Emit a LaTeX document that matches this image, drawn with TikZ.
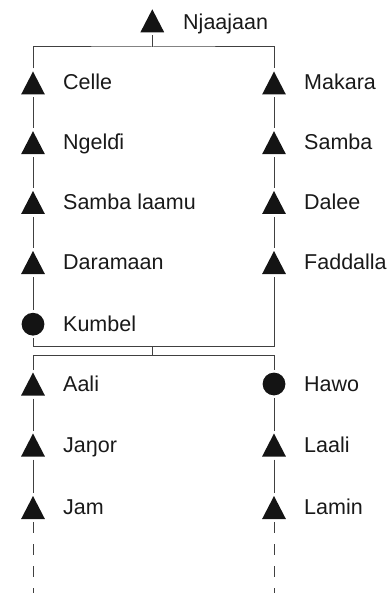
\documentclass[tikz,border=0pt]{standalone}
\usepackage{fontspec}
\setmainfont{Liberation Sans}
\begin{document}
\begin{tikzpicture}[x=1pt,y=-1pt,
  male/.style={rectangle,draw=none,minimum width=23.8pt,minimum height=23pt,inner sep=0pt,outer sep=3pt,
    path picture={\fill[black!92] (path picture bounding box.south west) -- (path picture bounding box.south east) -- (path picture bounding box.north) -- cycle;}},
  female/.style={circle,fill=black!92,draw=none,minimum size=22.8pt,inner sep=0pt,outer sep=2.5pt},
  lbl/.style={anchor=base west,inner sep=0pt,font=\fontsize{21.5pt}{24pt}\selectfont,text=black!90},
  link/.style={draw=black!75,line width=1pt},
  cont/.style={link,dash pattern=on 10.5pt off 11.5pt}]
\useasboundingbox (0,0) rectangle (388,593);
% symbols
\node[male] (nj) at (152.3,20.8) {};
\node[male] (celle) at (33,83) {};
\node[male] (ngeldi) at (33,142.7) {};
\node[male] (sambal) at (33,202.5) {};
\node[male] (daram) at (33,262.5) {};
\node[female] (kumbel) at (33,324.2) {};
\node[male] (makara) at (274,83) {};
\node[male] (samba) at (274,142.7) {};
\node[male] (dalee) at (274,202.5) {};
\node[male] (fadd) at (274,262.5) {};
\node[male] (aali) at (33,384) {};
\node[male] (janor) at (33,445) {};
\node[male] (jam) at (33,507.5) {};
\node[female] (hawo) at (274,384) {};
\node[male] (laali) at (274,445) {};
\node[male] (lamin) at (274,507.5) {};
% labels
\node[lbl] (tnj) at (183,29.3) {Njaajaan};
\node[lbl] (tcelle) at (63,90) {Celle};
\node[lbl] (tngeldi) at (63,149.7) {Ngelɗi};
\node[lbl] (tsambal) at (63,209.5) {Samba laamu};
\node[lbl] (tdaram) at (63,269.5) {Daramaan};
\node[lbl] (tkumbel) at (63,331.2) {Kumbel};
\node[lbl] (tmakara) at (304,90) {Makara};
\node[lbl] (tsamba) at (304,149.7) {Samba};
\node[lbl] (tdalee) at (304,209.5) {Dalee};
\node[lbl] (tfadd) at (304,269.5) {Faddalla};
\node[lbl] (taali) at (63,391) {Aali};
\node[lbl] (tjanor) at (63,452) {Jaŋor};
\node[lbl] (tjam) at (63,514.5) {Jam};
\node[lbl] (thawo) at (304,391) {Hawo};
\node[lbl] (tlaali) at (304,452) {Laali};
\node[lbl] (tlamin) at (304,514.5) {Lamin};
% junction points
\coordinate (topbar) at (152.3,47);
\coordinate (mar) at (152.3,346.7);
\coordinate (sib) at (152.3,355.7);
\coordinate (endL) at (33,593);
\coordinate (endR) at (274,593);
% connectors
\draw[link] (nj.south) -- (topbar);
\draw[link] (celle.north) |- (topbar) -| (makara.north);
\draw[link] (celle.south) -- (ngeldi.north);
\draw[link] (ngeldi.south) -- (sambal.north);
\draw[link] (sambal.south) -- (daram.north);
\draw[link] (daram.south) -- (kumbel.north);
\draw[link] (makara.south) -- (samba.north);
\draw[link] (samba.south) -- (dalee.north);
\draw[link] (dalee.south) -- (fadd.north);
\draw[link] (kumbel.south) |- (mar) -| (fadd.south);
\draw[link] (mar) -- (sib);
\draw[link] (aali.north) |- (sib) -| (hawo.north);
\draw[link] (aali.south) -- (janor.north);
\draw[link] (janor.south) -- (jam.north);
\draw[link] (hawo.south) -- (laali.north);
\draw[link] (laali.south) -- (lamin.north);
\draw[cont] (jam.south) -- (endL);
\draw[cont] (lamin.south) -- (endR);
\end{tikzpicture}
\end{document}
